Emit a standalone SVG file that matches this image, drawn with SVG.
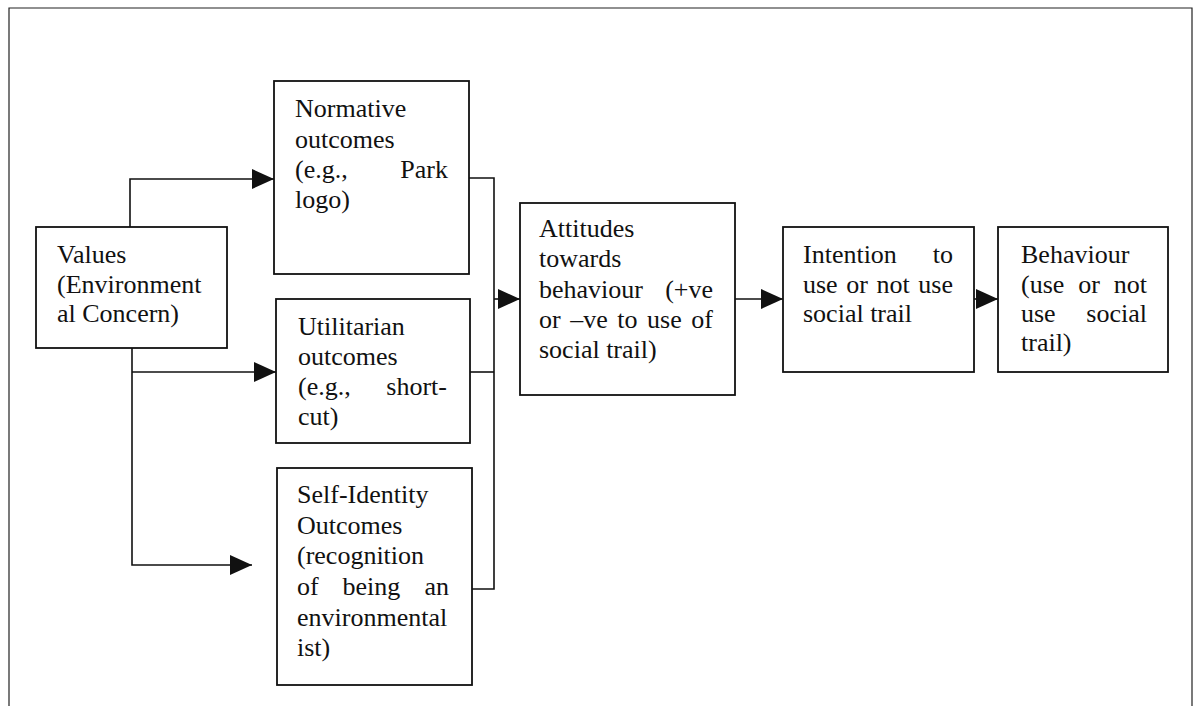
<svg xmlns="http://www.w3.org/2000/svg" width="1201" height="706" viewBox="0 0 1201 706">
  <style>
    .box { fill: #ffffff; stroke: #111111; stroke-width: 1.8; }
    .frame { fill: none; stroke: #222222; stroke-width: 1.2; }
    .link { fill: none; stroke: #111111; stroke-width: 1.6; }
    .end { text-anchor: end; }
  </style>
  <defs>
    <marker id="arrow" markerUnits="userSpaceOnUse" markerWidth="22" markerHeight="20" refX="22" refY="10" orient="auto">
      <path d="M0,0 L22,10 L0,20 Z" fill="#111111"/>
    </marker>
  </defs>

  <!-- outer frame, open at the bottom -->
  <path class="frame" d="M9,706 V8 H1192 V706"/>

  <!-- connectors -->
  <g id="connectors">
    <path class="link" d="M130,227 V179 H274" marker-end="url(#arrow)"/>
    <path class="link" d="M132,348 V565 H252" marker-end="url(#arrow)"/>
    <path class="link" d="M132,372 H276" marker-end="url(#arrow)"/>
    <path class="link" d="M469,178 H494 V589 H472"/>
    <path class="link" d="M470,372 H494"/>
    <path class="link" d="M494,299 H520" marker-end="url(#arrow)"/>
    <path class="link" d="M735,299 H783" marker-end="url(#arrow)"/>
    <path class="link" d="M974,299 H998" marker-end="url(#arrow)"/>
  </g>

  <g font-family="'Liberation Serif', 'DejaVu Serif', serif" font-size="26" fill="#111111">
  <g id="values">
    <rect class="box" x="36" y="227" width="191" height="121"/>
    <text x="57" y="263">Values</text>
    <text x="57" y="293">(Environment</text>
    <text x="57" y="322">al Concern)</text>
  </g>

  <g id="normative">
    <rect class="box" x="274" y="81" width="195" height="193"/>
    <text x="295" y="117">Normative</text>
    <text x="295" y="148">outcomes</text>
    <text x="295" y="178">(e.g.,</text>
    <text class="end" x="448" y="178">Park</text>
    <text x="295" y="208">logo)</text>
  </g>

  <g id="utilitarian">
    <rect class="box" x="276" y="299" width="194" height="144"/>
    <text x="298" y="335">Utilitarian</text>
    <text x="298" y="365">outcomes</text>
    <text x="298" y="395">(e.g.,</text>
    <text class="end" x="447" y="395">short-</text>
    <text x="298" y="425">cut)</text>
  </g>

  <g id="self-identity">
    <rect class="box" x="277" y="468" width="195" height="217"/>
    <text x="297" y="503">Self-Identity</text>
    <text x="297" y="534">Outcomes</text>
    <text x="297" y="564">(recognition</text>
    <text x="297" y="595">of</text>
    <text x="342.5" y="595">being</text>
    <text class="end" x="449" y="595">an</text>
    <text x="297" y="626">environmental</text>
    <text x="297" y="656">ist)</text>
  </g>

  <g id="attitudes">
    <rect class="box" x="520" y="203" width="215" height="192"/>
    <text x="539" y="237">Attitudes</text>
    <text x="539" y="267">towards</text>
    <text x="539" y="298">behaviour</text>
    <text class="end" x="713" y="298">(+ve</text>
    <text x="539" y="328">or</text>
    <text x="570.2" y="328">–ve</text>
    <text x="617.3" y="328">to</text>
    <text x="647.1" y="328">use</text>
    <text class="end" x="713" y="328">of</text>
    <text x="539" y="358">social trail)</text>
  </g>

  <g id="intention">
    <rect class="box" x="783" y="227" width="191" height="145"/>
    <text x="803" y="263">Intention</text>
    <text class="end" x="953" y="263">to</text>
    <text x="803" y="293">use</text>
    <text x="846.3" y="293">or</text>
    <text x="876.6" y="293">not</text>
    <text class="end" x="953" y="293">use</text>
    <text x="803" y="322">social trail</text>
  </g>

  <g id="behaviour">
    <rect class="box" x="998" y="227" width="170" height="145"/>
    <text x="1021" y="263">Behaviour</text>
    <text x="1021" y="293">(use</text>
    <text x="1078.2" y="293">or</text>
    <text class="end" x="1147" y="293">not</text>
    <text x="1021" y="322">use</text>
    <text class="end" x="1147" y="322">social</text>
    <text x="1021" y="351">trail)</text>
  </g>
  </g>
</svg>
